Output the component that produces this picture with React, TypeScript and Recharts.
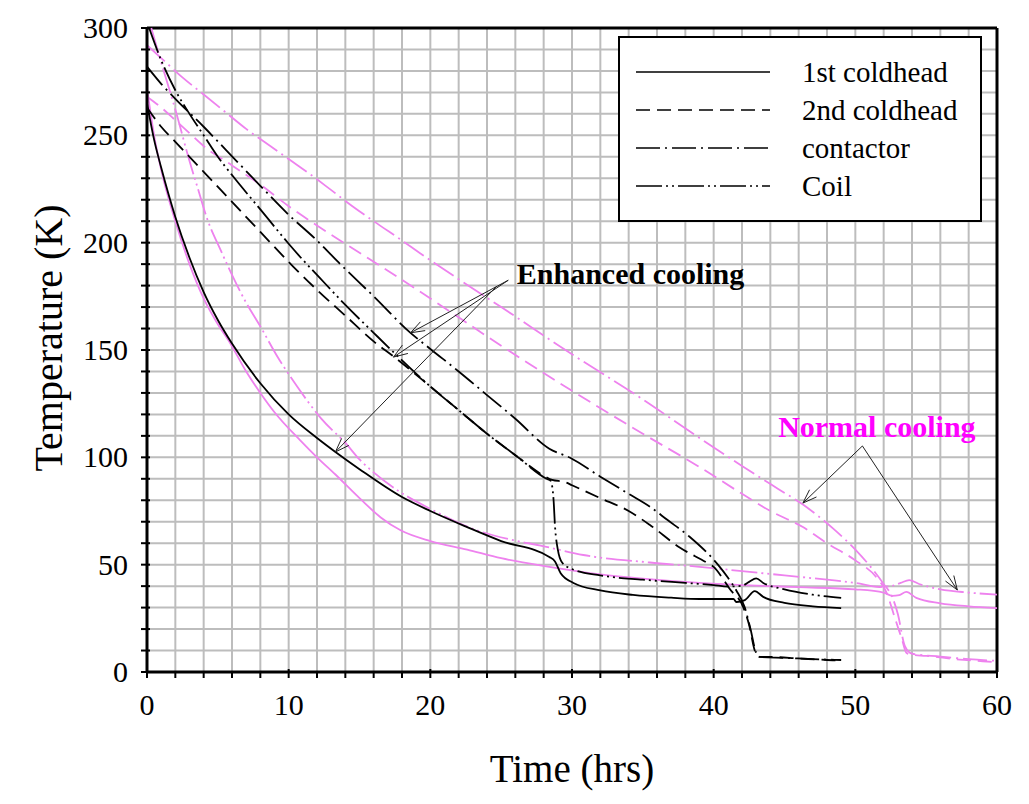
import {
  LineChart,
  Line,
  XAxis,
  YAxis,
  CartesianGrid,
  ReferenceLine,
  ReferenceDot,
  Legend,
} from "recharts";

// [time (hrs), temperature (K)]
const enh1st = [
  [0, 265], [0.5, 248], [1, 235], [2, 212], [3, 193], [4, 177], [5, 164], [6, 153],
  [8, 134.5], [10, 120], [12, 109], [13.3, 102.5], [15, 94.5], [18, 81.5], [20, 75],
  [22.6, 67.5], [25, 61], [28.4, 53.6], [28.8, 51.5], [29.2, 46], [30.1, 41.5],
  [32, 38], [34.3, 35.9], [37, 34.6], [39, 34], [41.4, 34], [41.6, 32.6], [42.2, 33.5],
  [42.9, 37.7], [43.5, 35], [45, 32.2], [47, 30.6], [49, 29.8],
];
const enh2nd = [
  [0, 263], [1, 254], [2, 247], [3, 240], [4, 233], [6, 219],
  [8, 205], [10.3, 189], [12, 178], [14, 166], [16, 154], [17.4, 147], [20, 133],
  [22, 122], [24, 111], [26, 101], [28, 91.5], [28.6, 89.5], [29.5, 88.5], [30, 87],
  [32, 81], [34, 75], [35.5, 68.5], [37.6, 58], [39.5, 51], [40, 49], [40.8, 42],
  [41.1, 39], [42.1, 30], [42.5, 22], [42.9, 10], [43.2, 7], [44, 7], [46, 6.3],
  [48, 5.6], [49, 5.3],
];
const enhContactor = [
  [0, 282], [1, 274], [2, 267], [4, 254], [5.6, 243], [8, 226.5], [10, 213],
  [12, 201], [13.8, 189], [16, 175], [18.6, 158], [20, 150.5], [22, 140], [24, 129],
  [26, 118], [28.4, 104], [29.9, 99.7], [32, 91], [34, 83], [35.5, 77], [36.7, 71],
  [38.3, 63], [40.3, 50], [41, 44], [41.6, 38], [42.2, 30], [42.6, 20], [43, 9],
  [43.3, 7], [45, 6.6], [47, 6], [49, 5.6],
];
const enhCoil = [
  [0.15, 300], [1, 285], [2, 271], [3, 260], [4, 250], [5, 240], [6, 231.5],
  [8, 215.5], [10, 199.5], [11, 192], [12, 185], [14, 171], [16, 158],
  [17.4, 149], [20, 133], [22, 122], [24, 111], [26, 101], [28.2, 90], [28.5, 89],
  [28.7, 80], [28.8, 68], [29, 57], [29.3, 51], [30, 48], [32, 45], [35, 43],
  [38, 41.5], [40, 40.5], [41, 39.8], [42, 40.2], [42.5, 42], [43, 43.6], [43.5, 41.5],
  [45, 38.5], [47, 36], [49, 34.5],
];

const nor1st = [
  [0, 272], [0.5, 250], [1, 234], [2, 210], [3, 190], [4, 174], [5, 162], [5.8, 154],
  [7, 140], [8, 130], [9, 121], [10.8, 108], [12, 100], [13.3, 92], [15, 81],
  [16.5, 72], [17.9, 66], [20, 61], [22.6, 57], [25, 53], [28.4, 49], [32, 45.5],
  [35, 43.5], [39, 41.5], [42, 40.5], [46, 39.5], [50, 38.5], [52, 37], [52.6, 35.5],
  [53.1, 35.8], [53.6, 37.3], [54.3, 34.5], [56, 32], [58, 30.6], [60, 29.8],
];
const nor2nd = [
  [0, 268], [1, 263], [2, 257], [3, 251], [4, 245], [6, 236], [8, 227], [10, 217],
  [12, 208], [14, 199.5], [16.4, 189.5], [20, 174], [25, 152], [30, 131], [35, 111],
  [39, 95.5], [42, 83], [44, 75], [46.3, 67.5], [48, 60], [50, 52], [51.5, 44],
  [52.2, 37], [52.8, 25], [53.3, 15], [53.6, 9], [54, 8], [55, 7.5], [56, 6.8],
  [57, 6], [58, 5.5], [59, 5], [60, 4.6],
];
const norContactor = [
  [0, 292], [1, 286], [2.5, 277], [4, 269], [5.5, 261], [7, 253], [8.7, 245],
  [10.1, 238.5], [11.7, 231], [13.1, 224], [14.5, 217], [16, 210], [18, 201],
  [19.3, 195], [22, 183], [25, 170], [30, 148], [35, 127], [39, 109], [42, 96],
  [44.5, 85.5], [46.3, 78], [48.4, 67], [50, 57], [51.2, 48], [52, 41], [52.6, 35],
  [53, 27], [53.5, 12], [54, 8.5], [56, 7.2], [58, 6], [60, 5.2],
];
const norCoil = [
  [0.3, 300], [1, 284], [2, 262], [3, 238], [3.6, 225], [4.2, 212],
  [5.2, 196.5], [6, 185], [7, 172], [8, 161], [9.2, 147], [10.6, 133], [12.3, 118],
  [14.1, 106], [15, 99], [16, 93], [17.6, 85], [20, 76], [23.3, 66], [25.8, 61.5],
  [27.7, 59], [30.8, 54.5], [35.5, 51], [39, 49], [42, 47], [45, 45], [48, 43],
  [50, 41.5], [51.7, 39.6], [52.5, 40], [53.2, 41.5], [53.8, 42.8], [54.5, 41],
  [56, 38.5], [58, 37], [60, 36],
];

const xTicks = [0, 2, 4, 6, 8, 10, 12, 14, 16, 18, 20, 22, 24, 26, 28, 30, 32, 34, 36, 38, 40, 42, 44, 46, 48, 50, 52, 54, 56, 58, 60];
const yTicks = [0, 10, 20, 30, 40, 50, 60, 70, 80, 90, 100, 110, 120, 130, 140, 150, 160, 170, 180, 190, 200, 210, 220, 230, 240, 250, 260, 270, 280, 290, 300];

const legendNames = ["1st coldhead", "2nd coldhead", "contactor", "Coil"];

// annotation arrows: [from, to] in data units
const enhancedArrows = [
  [[25.5, 182.5], [18.6, 158]],
  [[25.5, 182.5], [17.4, 146.7]],
  [[24.7, 179.8], [13.3, 102.5]],
];
const normalArrows = [
  [[50.5, 105.3], [46.3, 78.7]],
  [[50.5, 105.3], [57.2, 38.2]],
];

const FONT = "'Liberation Serif', 'Times New Roman', Times, serif";
const BLACK = "#000000";
const PINK = "#ee82ee";
const DASHES = [undefined, "14 7", "24 5 2 5", "26 4 2 4 2 4"];

const toPts = (a: number[][]) => a.map(([t, T]) => ({ t, T }));

const series = [
  { key: "n1", data: nor1st, color: PINK, dash: DASHES[0] },
  { key: "n2", data: nor2nd, color: PINK, dash: DASHES[1] },
  { key: "n3", data: norContactor, color: PINK, dash: DASHES[2] },
  { key: "n4", data: norCoil, color: PINK, dash: DASHES[3] },
  { key: "e1", data: enh1st, color: BLACK, dash: DASHES[0] },
  { key: "e2", data: enh2nd, color: BLACK, dash: DASHES[1] },
  { key: "e3", data: enhContactor, color: BLACK, dash: DASHES[2] },
  { key: "e4", data: enhCoil, color: BLACK, dash: DASHES[3] },
];

// pixels per data unit, used only to shape arrow heads
const PX = 850 / 60;
const PY = 644 / 300;

function headSegments(from: number[], to: number[]) {
  const dx = (to[0] - from[0]) * PX;
  const dy = -(to[1] - from[1]) * PY;
  const len = Math.hypot(dx, dy);
  const ux = dx / len;
  const uy = dy / len;
  const L = 14;
  const W = 5;
  return [1, -1].map((s) => {
    const ox = -ux * L + s * -uy * W;
    const oy = -uy * L + s * ux * W;
    return [
      { x: to[0], y: to[1] },
      { x: to[0] + ox / PX, y: to[1] - oy / PY },
    ];
  });
}

const textStyle = { fontFamily: FONT };

const XTick = (props: any) => {
  const { x, y, payload } = props;
  const v = payload.value;
  const major = v % 10 === 0;
  return (
    <g>
      <line x1={x} y1={y} x2={x} y2={y - (major ? 9 : 7)} stroke="#000" strokeWidth={2} />
      {major && (
        <text x={x} y={y + 37} textAnchor="middle" fontSize={30} style={textStyle} fill="#000">
          {v}
        </text>
      )}
    </g>
  );
};

const YTick = (props: any) => {
  const { x, y, payload } = props;
  const v = payload.value;
  const major = v % 50 === 0;
  return (
    <g>
      <line x1={x} y1={y} x2={x + 9} y2={y} stroke="#000" strokeWidth={2} />
      {major && (
        <text x={x - 13} y={y + 10} textAnchor="end" fontSize={30} style={textStyle} fill="#000">
          {v}
        </text>
      )}
    </g>
  );
};

const renderLegend = () => (
  <div
    style={{
      width: 364,
      height: 186,
      boxSizing: "border-box",
      border: "2px solid #000",
      background: "#fff",
    }}>
    <svg width={360} height={182}>
      {legendNames.map((name, i) => (
        <g key={name}>
          <line
            x1={16}
            x2={150}
            y1={34 + i * 38}
            y2={34 + i * 38}
            stroke="#000"
            strokeWidth={1.5}
            strokeDasharray={DASHES[i]}
          />
          <text x={182} y={44 + i * 38} fontSize={29} style={textStyle} fill="#000">
            {name}
          </text>
        </g>
      ))}
    </svg>
  </div>
);

export default function App() {
  return (
    <div style={{ fontFamily: FONT }}>
      <LineChart
        width={1013}
        height={790}
        margin={{ top: 20, right: 24, bottom: 0, left: 0 }}>
        <CartesianGrid stroke="#bdbdbd" strokeWidth={2} />
        <XAxis
          type="number"
          dataKey="t"
          domain={[0, 60]}
          ticks={xTicks}
          interval={0}
          height={126}
          tickLine={false}
          tickMargin={0}
          tick={<XTick />}
          axisLine={{ stroke: "#000", strokeWidth: 3 }}
          label={{
            content: (p: any) => {
              const vb = p.viewBox;
              return (
                <text
                  x={vb.x + vb.width / 2}
                  y={vb.y + vb.height - 16}
                  textAnchor="middle"
                  fontSize={39}
                  style={textStyle}
                  fill="#000">
                  Time (hrs)
                </text>
              );
            },
          }}
        />
        <YAxis
          type="number"
          dataKey="T"
          domain={[0, 300]}
          ticks={yTicks}
          interval={0}
          width={139}
          tickLine={false}
          tickMargin={0}
          tick={<YTick />}
          axisLine={{ stroke: "#000", strokeWidth: 3 }}
          label={{
            content: (p: any) => {
              const vb = p.viewBox;
              const cx = vb.x + 45;
              const cy = vb.y + vb.height / 2 - 12;
              return (
                <text
                  x={cx}
                  y={cy}
                  transform={`rotate(-90 ${cx} ${cy})`}
                  textAnchor="middle"
                  dominantBaseline="middle"
                  fontSize={40}
                  style={textStyle}
                  fill="#000">
                  Temperature (K)
                </text>
              );
            },
          }}
        />
        <ReferenceLine y={300} stroke="#000" strokeWidth={3} />
        <ReferenceLine x={60} stroke="#000" strokeWidth={3} />
        {series.map((s) => (
          <Line
            key={s.key}
            data={toPts(s.data)}
            dataKey="T"
            type="monotone"
            stroke={s.color}
            strokeWidth={s.color === BLACK ? 1.8 : 1.8}
            strokeDasharray={s.dash}
            dot={false}
            isAnimationActive={false}
          />
        ))}
        {[...enhancedArrows, ...normalArrows].map((a, i) => (
          <ReferenceLine
            key={`arr${i}`}
            segment={[
              { x: a[0][0], y: a[0][1] },
              { x: a[1][0], y: a[1][1] },
            ]}
            stroke="#222"
            strokeWidth={1}
          />
        ))}
        {[...enhancedArrows, ...normalArrows].flatMap((a, i) =>
          headSegments(a[0], a[1]).map((seg, j) => (
            <ReferenceLine key={`head${i}-${j}`} segment={seg} stroke="#222" strokeWidth={1} />
          ))
        )}
        <ReferenceDot
          x={26.1}
          y={180.7}
          r={0}
          fill="none"
          stroke="none"
          label={{
            content: (p: any) => (
              <text x={p.viewBox.x} y={p.viewBox.y} fontSize={30} fontWeight="bold" style={textStyle} fill="#000">
                Enhanced cooling
              </text>
            ),
          }}
        />
        <ReferenceDot
          x={44.55}
          y={109.5}
          r={0}
          fill="none"
          stroke="none"
          label={{
            content: (p: any) => (
              <text x={p.viewBox.x} y={p.viewBox.y} fontSize={30} fontWeight="bold" style={textStyle} fill="#ff00ff">
                Normal cooling
              </text>
            ),
          }}
        />
        <Legend
          layout="horizontal"
          verticalAlign="middle"
          content={renderLegend}
          wrapperStyle={{ left: 610, top: 28, width: 364, height: 186 }}
        />
      </LineChart>
    </div>
  );
}
